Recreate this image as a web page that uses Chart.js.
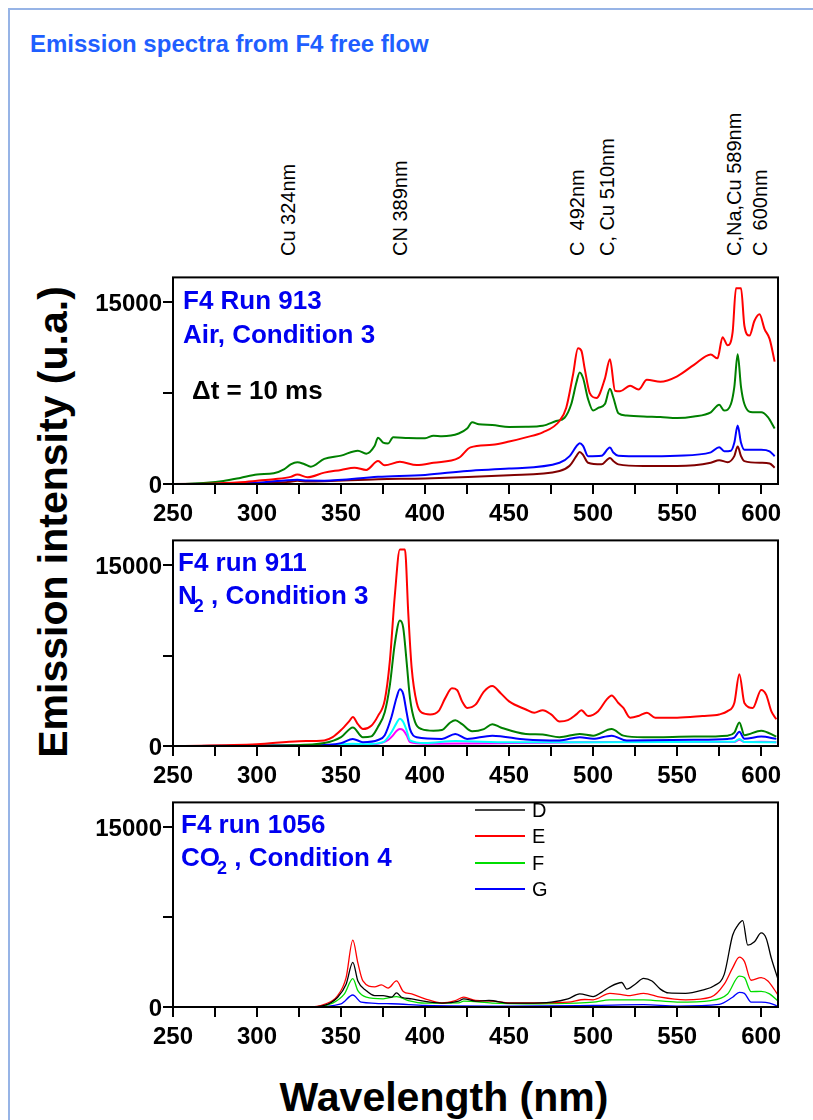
<!DOCTYPE html>
<html>
<head>
<meta charset="utf-8">
<script src="https://cdn.jsdelivr.net/npm/chart.js@4.4.0/dist/chart.umd.min.js"></script>
<style>
  body { margin: 0; background: #fff; font-family: "Liberation Sans", Arial, sans-serif; }
  #page { position: relative; width: 813px; height: 1120px; overflow: hidden; }
  .pageframe { position: absolute; left: 8px; top: 8px; width: 900px; height: 1200px;
    border-left: 2px solid #97b4e6; border-top: 2px solid #97b4e6; }
  canvas { position: absolute; left: 80px; }
  .t { position: absolute; white-space: pre; line-height: 1; }
  .title { left: 30px; top: 32px; font-size: 24px; font-weight: bold; color: #1f5fff; }
  .run { font-size: 26px; font-weight: bold; color: #0000f0; }
  .run sub { font-size: 18px; vertical-align: baseline; position: relative; top: 8px; margin-left: -3px; }
  .ytitle { left: -246px; top: 501px; width: 600px; height: 42px; text-align: center;
    font-size: 41px; font-weight: bold; transform: rotate(-90deg); }
  .xtitle { left: 144px; top: 1077px; width: 600px; text-align: center; font-size: 41px; font-weight: bold; }
  .ann { font-size: 20px; line-height: 20px; transform: rotate(-90deg); transform-origin: 0 0; }
  .leg { position: absolute; height: 2px; width: 50px; }
  .legtxt { font-size: 20px; line-height: 20px; }
</style>
</head>
<body>
<div id="page">
  <div class="pageframe"></div>
  <div class="t title">Emission spectra from F4 free flow</div>

  <canvas id="airChart" width="720" height="262" style="top:262px"></canvas>
  <canvas id="n2Chart" width="720" height="261" style="top:525px"></canvas>
  <canvas id="co2Chart" width="720" height="260" style="top:787px"></canvas>

  <div class="t run" style="left:183px;top:287px">F4 Run 913</div>
  <div class="t run" style="left:183px;top:321px">Air, Condition 3</div>
  <div class="t run" style="left:192px;top:377px;color:#000">Δt = 10 ms</div>

  <div class="t run" style="left:178px;top:549px">F4 run 911</div>
  <div class="t run" style="left:178px;top:582px">N<sub>2</sub> , Condition 3</div>

  <div class="t run" style="left:181px;top:811px">F4 run 1056</div>
  <div class="t run" style="left:181px;top:844px">CO<sub>2</sub> , Condition 4</div>

  <div class="t ytitle">Emission intensity (u.a.)</div>
  <div class="t xtitle">Wavelength (nm)</div>
  <div id="overlay"></div>
</div>

<script>
// emission line labels above the top panel
const lineLabels = ['Cu 324nm', 'CN 389nm', 'C  492nm', 'C, Cu 510nm', 'C,Na,Cu 589nm', 'C  600nm'];
const lineNm = [324, 389, 492, 510, 589, 600];
// hand nudges (px) so the labels sit like in the original figure
const lineLabelNudge = [-9, -7, -3, -3, -9, -1];

// axis ticks
const xMin = 250, xMax = 610;
const xTicks = [250, 275, 300, 325, 350, 375, 400, 425, 450, 475, 500, 525, 550, 575, 600];
const xLabelStep = 50;
const yMin = 0, yMax = 17050;
const yTicks = [0, 7500, 15000];
const yLabelled = [0, 15000];

// ---- F4 Run 913, Air ----
const airRedNm = [250,270,290,300,310,320,324,330,340,350,358,365,372,376,385,395,405,420,427,440,450,460,470,480,484,488,491,493,495,498,502,507,510,513,516,522,527,532,540,550,560,570,574,577,580,583,585,588,590,593,596,599,602,605,608];
const airRed = [0,30,150,270,400,590,780,560,940,1160,1350,1160,1890,1540,1830,1560,1750,2150,3020,3230,3500,3850,4260,5200,6300,9000,11200,11000,9500,7500,7100,8700,10300,7700,7650,8100,7800,8600,8430,8890,9830,10690,10370,12120,11450,12530,16150,16150,13060,12250,13470,14000,12790,11980,10100];

const airGreenNm = [250,260,270,280,290,300,310,316,320,324,328,332,340,350,360,365,370,372,375,378,381,390,400,405,410,420,425,428,432,440,450,460,470,478,483,487,490,492,494,497,500,503,507,510,512,515,520,530,540,550,560,570,575,578,582,584,586,588,590,595,600,604,608];
const airGreen = [0,30,100,250,500,780,890,1210,1620,1800,1650,1430,2070,2340,2750,2500,3150,3820,3420,3350,3850,3800,3780,3990,3950,4170,4580,5090,4930,4870,4710,4720,4800,5200,5470,6600,8350,9210,8750,7000,6060,6280,6600,7860,7140,5840,5650,5570,5520,5440,5570,5920,6540,6060,6600,8000,10700,8000,6600,5920,5920,5520,4580];

const airBlueNm = [250,280,300,324,330,340,372,400,425,450,480,486,490,492,494,497,505,510,512,515,530,550,570,575,578,582,584,586,588,590,600,605,608];
const airBlue = [0,30,100,350,280,270,590,750,1080,1270,1750,2300,3100,3370,3150,2290,2330,3020,2600,2340,2290,2340,2610,3040,2700,2750,3400,4820,3400,2830,2830,2700,2290];

const airMaroonNm = [250,300,320,324,330,372,400,450,480,486,490,492,494,497,505,510,512,515,530,550,570,575,580,584,586,588,590,600,605,608];
const airMaroon = [0,60,180,260,200,400,460,730,1080,1500,2300,2640,2400,1750,1620,2150,1900,1620,1480,1480,1750,1970,1800,2300,3100,2300,1890,1750,1700,1350];

// ---- F4 run 911, N2 ----
const n2RedNm = [250,300,325,340,345,350,355,357,360,363,368,372,376,379,382,385,388,390,392,395,398,403,408,412,416,419,422,425,430,435,440,445,450,460,465,470,475,480,485,490,493,497,503,508,511,515,518,522,527,532,537,550,565,575,580,584,587,590,595,600,603,606,609];
const n2Red = [0,135,400,460,730,1320,2080,2400,1810,1400,1680,2500,3800,7000,12500,16300,16300,11000,6500,3600,2760,2620,2890,3970,4780,4650,3700,3160,3430,4510,4970,4380,3700,3030,2760,2970,2620,2030,2140,2620,2970,2490,2890,3840,4190,3570,3160,2350,2490,2760,2350,2350,2490,2620,2890,3570,5950,3570,3160,4650,4240,2890,2220];

const n2GreenNm = [250,320,340,350,357,363,368,372,376,379,382,385,387,389,391,394,398,405,410,415,418,422,428,435,440,445,460,470,480,492,500,511,518,530,560,580,584,587,590,600,609];
const n2Green = [0,60,240,730,1540,730,800,1600,2800,5000,8500,10400,9800,7000,4000,2000,1400,1270,1320,1950,2140,1810,1220,1400,1810,1540,1000,950,730,1000,860,1400,860,730,780,860,1100,1950,900,1270,780];

const n2BlueNm = [250,330,350,357,363,372,376,380,383,385,387,389,391,395,410,418,425,440,460,480,492,500,511,520,560,580,584,587,590,600,609];
const n2Blue = [0,50,240,590,320,500,900,2400,4000,4700,4300,2800,1400,730,590,1000,590,860,540,460,730,600,860,460,510,590,700,1190,600,780,590];

const n2CyanNm = [250,340,357,365,375,380,383,385,387,389,391,400,418,450,500,584,587,590,609];
const n2Cyan = [0,60,190,150,320,1140,1900,2270,2000,1300,460,240,405,320,320,350,590,330,320];

const n2MagentaNm = [250,360,370,378,381,383,385,387,389,391,400,450,492,511,584,587,590,600,609];
const n2Magenta = [0,60,135,500,900,1250,1400,1300,900,320,190,240,320,330,330,510,330,350,320];

// ---- F4 run 1056, CO2 ----
const co2DNm = [250,330,340,348,353,357,360,365,370,375,380,383,386,392,400,410,420,423,430,438,450,460,475,485,492,500,505,510,517,520,525,530,535,540,545,555,565,572,578,583,586,589,592,596,600,603,606,610];
const co2D = [0,0,135,815,1900,3720,2170,1360,950,950,815,1170,815,680,460,330,490,680,490,540,330,330,410,680,1090,870,1220,1680,2040,1490,1900,2390,2170,1490,1170,1140,1410,1770,2720,5980,6790,7200,5160,5430,6170,5710,4080,2310];

const co2ENm = [250,330,340,348,353,357,360,363,370,374,378,383,387,392,400,410,418,423,430,440,450,470,485,495,500,510,517,522,530,540,555,570,578,583,587,590,594,600,604,610];
const co2E = [0,0,220,950,2450,5570,3670,2170,1680,1850,1580,2170,1300,1090,680,350,540,815,540,490,350,350,400,625,600,1140,1030,950,1140,815,600,815,1900,3260,4160,3800,2230,2450,2170,1000];

const co2FNm = [250,330,345,352,357,360,365,375,383,390,400,420,423,440,460,490,500,510,530,550,570,580,587,590,594,600,605,610];
const co2F = [0,0,330,1090,2360,1360,815,680,870,540,330,350,490,330,270,330,410,600,600,410,540,1090,2580,2450,1280,1300,1090,490];

const co2GNm = [250,330,350,357,362,380,400,450,500,530,550,575,583,587,590,594,600,605,610];
const co2G = [0,0,270,1000,410,270,135,80,135,190,80,220,815,1220,1140,410,410,330,50];

Chart.defaults.font.family = '"Liberation Sans", Arial, sans-serif';
Chart.defaults.color = '#000';

const framePlugin = {
  id: 'frame',
  afterDraw(chart) {
    const { ctx, chartArea: a } = chart;
    ctx.save();
    ctx.strokeStyle = '#000';
    ctx.lineWidth = 2;
    ctx.strokeRect(a.left, a.top, a.right - a.left, a.bottom - a.top);
    ctx.restore();
  }
};

function pts(nm, val) {
  return nm.map((x, i) => ({ x, y: val[i] }));
}

function makeChart(id, series, width) {
  return new Chart(document.getElementById(id), {
    type: 'line',
    data: {
      datasets: series.map(s => ({
        label: s.label,
        data: pts(s.nm, s.val),
        borderColor: s.color,
        borderWidth: width,
        pointRadius: 0,
        cubicInterpolationMode: 'monotone',
        fill: false,
      })),
    },
    options: {
      responsive: false, animation: false, events: [],
      layout: { padding: { top: 10, right: 22, left: 0, bottom: 0 } },
      plugins: { legend: { display: false }, tooltip: { enabled: false } },
      scales: {
        x: {
          type: 'linear', min: xMin, max: xMax,
          afterBuildTicks: s => { s.ticks = xTicks.map(v => ({ value: v })); },
          afterFit: s => { s.height = 40; },
          border: { display: false },
          grid: { drawOnChartArea: false, color: '#000', lineWidth: 2, tickLength: 10 },
          ticks: {
            autoSkip: false, maxRotation: 0, padding: 6,
            font: { size: 24, weight: 'bold' },
            callback: v => (v % xLabelStep === 0 ? String(v) : ''),
          },
        },
        y: {
          min: yMin, max: yMax,
          afterBuildTicks: s => { s.ticks = yTicks.map(v => ({ value: v })); },
          afterFit: s => { s.width = 93; },
          border: { display: false },
          grid: { drawOnChartArea: false, color: '#000', lineWidth: 2, tickLength: 10 },
          ticks: {
            autoSkip: false, padding: 1, labelOffset: 2,
            font: { size: 24, weight: 'bold' },
            callback: v => (yLabelled.includes(v) ? String(v) : ''),
          },
        },
      },
    },
    plugins: [framePlugin],
  });
}

const airChart = makeChart('airChart', [
  { label: 'red', nm: airRedNm, val: airRed, color: '#ff0000' },
  { label: 'green', nm: airGreenNm, val: airGreen, color: '#008000' },
  { label: 'blue', nm: airBlueNm, val: airBlue, color: '#0000ff' },
  { label: 'maroon', nm: airMaroonNm, val: airMaroon, color: '#800000' },
], 2);

makeChart('n2Chart', [
  { label: 'red', nm: n2RedNm, val: n2Red, color: '#ff0000' },
  { label: 'green', nm: n2GreenNm, val: n2Green, color: '#008000' },
  { label: 'blue', nm: n2BlueNm, val: n2Blue, color: '#0000ff' },
  { label: 'cyan', nm: n2CyanNm, val: n2Cyan, color: '#00ffff' },
  { label: 'magenta', nm: n2MagentaNm, val: n2Magenta, color: '#ff00ff' },
], 2);

const co2Series = [
  { label: 'D', nm: co2DNm, val: co2D, color: '#000000' },
  { label: 'E', nm: co2ENm, val: co2E, color: '#ff0000' },
  { label: 'F', nm: co2FNm, val: co2F, color: '#00dd00' },
  { label: 'G', nm: co2GNm, val: co2G, color: '#0000ff' },
];
makeChart('co2Chart', co2Series, 1.3);

// rotated line labels, placed with the top panel's x scale
const overlay = document.getElementById('overlay');
let html = '';
lineLabels.forEach((txt, i) => {
  const cx = 80 + airChart.scales.x.getPixelForValue(lineNm[i]) + lineLabelNudge[i];
  html += `<div class="t ann" style="left:${(cx - 10).toFixed(1)}px;top:256px">${txt}</div>`;
});

// legend of the CO2 panel
co2Series.forEach((s, i) => {
  const y = 810 + i * 26.3;
  html += `<div class="leg" style="left:475px;top:${(y - 1).toFixed(1)}px;background:${s.color === '#000000' ? '#444' : s.color}"></div>`;
  html += `<div class="t legtxt" style="left:532px;top:${(y - 10).toFixed(1)}px">${s.label}</div>`;
});
overlay.innerHTML = html;
</script>
</body>
</html>
